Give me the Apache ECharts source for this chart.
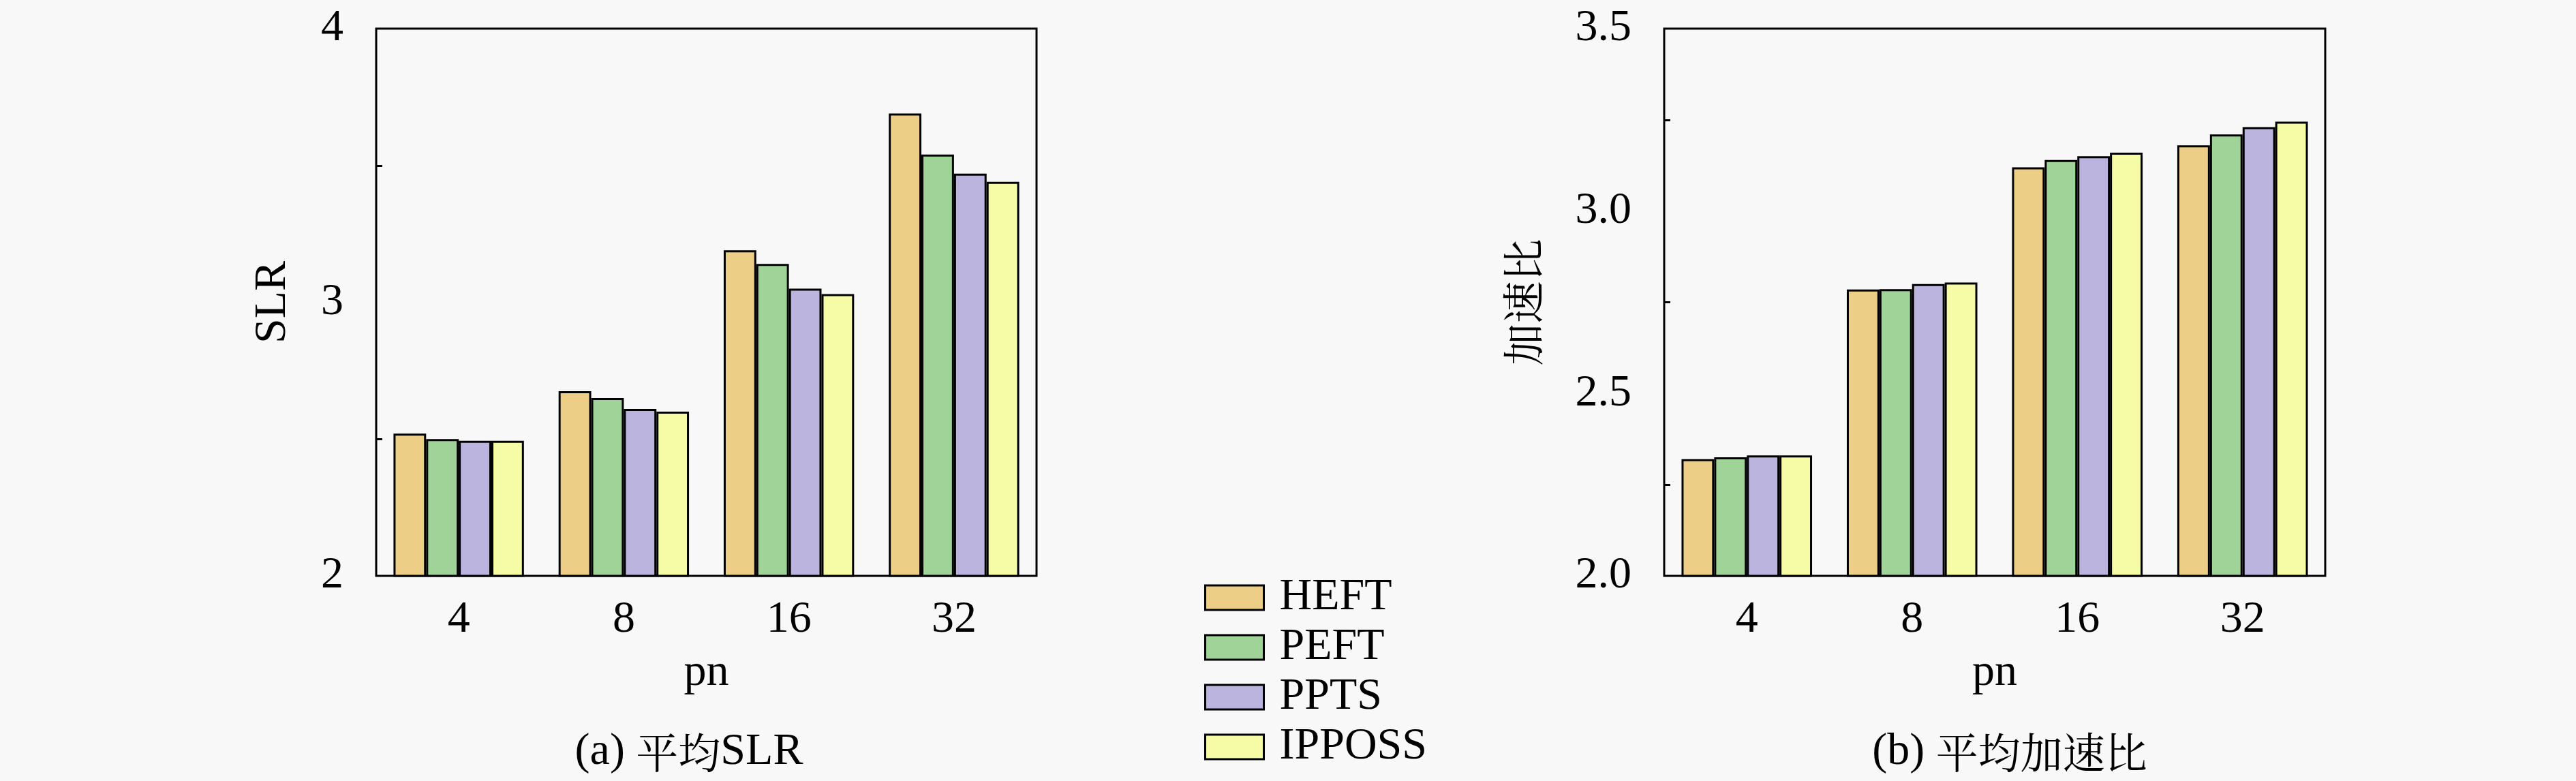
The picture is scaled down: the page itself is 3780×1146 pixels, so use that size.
<!DOCTYPE html>
<html>
<head>
<meta charset="utf-8">
<script src="https://cdn.jsdelivr.net/npm/echarts@6/dist/echarts.min.js"></script>
<style>
  html, body { margin: 0; padding: 0; background: #f8f8f8; }
  #main { width: 3780px; height: 1146px; }
</style>
</head>
<body>
<div id="main"></div>
<script>
// pn values on the x axis
const categories = ['4', '8', '16', '32'];
const seriesNames = ['HEFT', 'PEFT', 'PPTS', 'IPPOSS'];
const colors = ['#ecce87', '#a0d398', '#bbb4de', '#f6fca6'];

// (a) average SLR
const slrHEFT = [2.52, 2.675, 3.19, 3.69];
const slrPEFT = [2.50, 2.65, 3.14, 3.54];
const slrPPTS = [2.494, 2.61, 3.05, 3.47];
const slrIPPOSS = [2.494, 2.60, 3.03, 3.44];

// (b) average speedup
const spHEFT = [2.32, 2.785, 3.12, 3.18];
const spPEFT = [2.325, 2.786, 3.14, 3.21];
const spPPTS = [2.33, 2.80, 3.15, 3.23];
const spIPPOSS = [2.33, 2.804, 3.16, 3.245];

const slrTicks = [2, 3, 4];
const spTicks = ['2.0', '2.5', '3.0', '3.5'];

const FONT = 'Liberation Serif';
const CJK = 'Noto Serif CJK SC';
const FS = 66;

const chart = echarts.init(document.getElementById('main'));

function makeSeries(name, data, color, idx) {
  return {
    name: name,
    type: 'bar',
    xAxisIndex: idx,
    yAxisIndex: idx,
    data: data,
    barGap: '0%',
    barCategoryGap: '21%',
    itemStyle: { color: color, borderColor: '#000', borderWidth: 3 }
  };
}

function xAxisOpt(idx) {
  return {
    type: 'category',
    gridIndex: idx,
    data: categories,
    name: 'pn',
    nameLocation: 'middle',
    nameGap: 110,
    nameTextStyle: { fontFamily: FONT, fontSize: FS, color: '#000' },
    axisLine: { show: false },
    axisTick: { show: false },
    axisLabel: { fontFamily: FONT, fontSize: FS, color: '#000', margin: 32 }
  };
}

// latin parts in the serif face, chinese parts in a song-style face
const rich = {
  l: { fontFamily: FONT, fontSize: FS, color: '#000' },
  c: { fontFamily: CJK, fontSize: FS - 4, color: '#000' }
};

const allSeries = [];
[slrHEFT, slrPEFT, slrPPTS, slrIPPOSS].forEach((d, i) => allSeries.push(makeSeries(seriesNames[i], d, colors[i], 0)));
[spHEFT, spPEFT, spPPTS, spIPPOSS].forEach((d, i) => allSeries.push(makeSeries(seriesNames[i], d, colors[i], 1)));

chart.setOption({
  backgroundColor: '#f8f8f8',
  animation: false,
  textStyle: { fontFamily: FONT },
  title: [
    { text: '{l|(a) }{c|平均}{l|SLR}', left: 1006, top: 1066, textAlign: 'center',
      textStyle: { fontFamily: FONT, fontSize: FS, fontWeight: 'normal', color: '#000', rich: rich } },
    { text: '{l|(b) }{c|平均加速比}', left: 2944, top: 1066, textAlign: 'center',
      textStyle: { fontFamily: FONT, fontSize: FS, fontWeight: 'normal', color: '#000', rich: rich } }
  ],
  legend: {
    data: seriesNames,
    orient: 'vertical',
    left: 1767,
    top: 844,
    padding: 0,
    itemWidth: 86,
    itemHeight: 36,
    itemGap: 7,
    icon: 'rect',
    itemStyle: { borderColor: '#000', borderWidth: 3 },
    textStyle: { fontFamily: FONT, fontSize: FS, color: '#000', lineHeight: 64, padding: [0, 0, 0, 18] }
  },
  grid: [
    { left: 552, top: 42, width: 969, height: 803, show: true, borderColor: '#000', borderWidth: 3, backgroundColor: 'transparent', outerBoundsMode: 'none' },
    { left: 2442, top: 42, width: 970, height: 803, show: true, borderColor: '#000', borderWidth: 3, backgroundColor: 'transparent', outerBoundsMode: 'none' }
  ],
  xAxis: [xAxisOpt(0), xAxisOpt(1)],
  yAxis: [
    {
      type: 'value', gridIndex: 0, min: 2, max: 4, interval: 1,
      name: 'SLR', nameLocation: 'middle', nameGap: 118,
      nameTextStyle: { fontFamily: FONT, fontSize: FS, color: '#000' },
      axisLine: { show: false },
      splitLine: { show: false },
      axisTick: { inside: true, length: 18, lineStyle: { color: '#000', width: 3 } },
      minorTick: { show: true, splitNumber: 2, length: 9, lineStyle: { color: '#000', width: 3 } },
      axisLabel: { fontFamily: FONT, fontSize: FS, color: '#000', margin: 48,
        formatter: v => slrTicks.indexOf(v) >= 0 ? String(v) : '' }
    },
    {
      type: 'value', gridIndex: 1, min: 2, max: 3.5, interval: 0.5,
      name: '加速比', nameLocation: 'middle', nameGap: 176,
      nameTextStyle: { fontFamily: CJK, fontSize: FS - 4, color: '#000' },
      axisLine: { show: false },
      splitLine: { show: false },
      axisTick: { inside: true, length: 18, lineStyle: { color: '#000', width: 3 } },
      minorTick: { show: true, splitNumber: 2, length: 9, lineStyle: { color: '#000', width: 3 } },
      axisLabel: { fontFamily: FONT, fontSize: FS, color: '#000', margin: 48,
        formatter: v => spTicks.find(t => Math.abs(parseFloat(t) - v) < 1e-9) || '' }
    }
  ],
  series: allSeries
});
</script>
</body>
</html>
